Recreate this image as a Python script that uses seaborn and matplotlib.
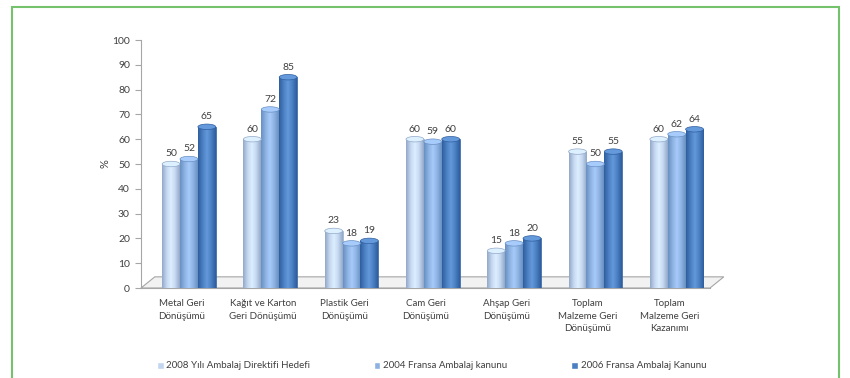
import numpy as np
import pandas as pd
import matplotlib
matplotlib.use("Agg")
import matplotlib.pyplot as plt
import seaborn as sns
from matplotlib.patches import Polygon, Rectangle, Ellipse
from matplotlib.colors import LinearSegmentedColormap

categories = ["Metal Geri\nDönüşümü", "Kağıt ve Karton\nGeri Dönüşümü", "Plastik Geri\nDönüşümü",
              "Cam Geri\nDönüşümü", "Ahşap Geri\nDönüşümü", "Toplam\nMalzeme Geri\nDönüşümü",
              "Toplam\nMalzeme Geri\nKazanımı"]
series_names = ["2008 Yılı Ambalaj Direktifi Hedefi", "2004 Fransa Ambalaj kanunu",
                "2006 Fransa Ambalaj Kanunu"]
values_2008 = [50, 60, 23, 60, 15, 55, 60]
values_2004_fr = [52, 72, 18, 59, 18, 50, 62]
values_2006_fr = [65, 85, 19, 60, 20, 55, 64]
yticks = list(range(0, 101, 10))

colors = ["#C3D6EF", "#8DB2E1", "#4A7FC1"]
edges = ["#93A9C8", "#6890C2", "#2F5E9E"]

rows = []
for name, vals in zip(series_names, [values_2008, values_2004_fr, values_2006_fr]):
    for c, v in zip(categories, vals):
        rows.append({"cat": c, "series": name, "val": v})
df = pd.DataFrame(rows)

sns.set_theme(style="white")
plt.rcParams["font.family"] = ["Lato", "DejaVu Sans"]

fig = plt.figure(figsize=(8.5, 3.78), dpi=100)
ax = fig.add_axes([141 / 850, 1 - 288 / 378, (710 - 141) / 850, (288 - 40) / 378])

sns.barplot(data=df, x="cat", y="val", hue="series", palette=colors, width=0.66,
            saturation=1, ax=ax, legend=True, zorder=3)

ax.set_ylim(0, 100)
ax.set_xlim(-0.5, len(categories) - 0.5)

# cylinder shading on each bar, derived from the bar geometry (3D depth shift)
nser = len(series_names)
ncat = len(categories)
depth_shift = 0.09
bar_patches = [p for p in ax.patches if p.get_height() > 0][: nser * ncat]
for i, p in enumerate(bar_patches):
    s = i // ncat
    p.set_x(p.get_x() + depth_shift)
    base = matplotlib.colors.to_rgb(colors[s])
    dark = matplotlib.colors.to_rgb(edges[s])
    light = tuple(min(1, c + 0.1) for c in base)
    cmap = LinearSegmentedColormap.from_list("cyl", [dark, base, light, base, dark])
    x0, w, h = p.get_x(), p.get_width(), p.get_height()
    grad = np.linspace(0, 1, 64).reshape(1, -1)
    im = ax.imshow(grad, extent=[x0, x0 + w, 0, h], aspect="auto", cmap=cmap,
                   zorder=3.5, origin="lower")
    im.set_clip_path(p)
    p.set_edgecolor(dark)
    p.set_linewidth(0.5)
    cap = Ellipse((x0 + w / 2, h), w, 2.2, facecolor=light, edgecolor=dark,
                  linewidth=0.5, zorder=4)
    ax.add_patch(cap)

for cont in ax.containers:
    ax.bar_label(cont, padding=4, fontsize=7.5, color="#404040", zorder=5)

# 3D-like floor
dx, dy = 0.17, 4.5
floor = Polygon([(-0.5, 0), (ncat - 0.5, 0), (ncat - 0.5 + dx, dy), (-0.5 + dx, dy)],
                closed=True, facecolor="#F2F2F2", edgecolor="#A6A6A6", linewidth=0.8,
                zorder=1, clip_on=False)
ax.add_patch(floor)

ax.set_yticks(yticks)
ax.set_yticklabels([str(t) for t in yticks], fontsize=7.5, color="#404040")
ax.set_xticks(range(ncat))
ax.set_xticklabels(categories, fontsize=7, color="#404040", linespacing=1.5)
ax.set_xticks(np.arange(-0.5, ncat, 1), minor=True)
ax.tick_params(axis="x", which="major", length=0, pad=8)
ax.tick_params(axis="x", which="minor", length=4, color="#A6A6A6", width=0.8, direction="out")
ax.tick_params(axis="y", length=4, color="#A6A6A6", width=0.8, left=True, direction="out", pad=4)
ax.set_xlabel("")
ax.set_ylabel("%", fontsize=8, color="#404040", labelpad=1)

for side in ["top", "right"]:
    ax.spines[side].set_visible(False)
ax.spines["left"].set_color("#A6A6A6")
ax.spines["left"].set_linewidth(0.8)
ax.spines["bottom"].set_color("#A6A6A6")
ax.spines["bottom"].set_linewidth(0.8)

handles, labels = ax.get_legend_handles_labels()
ax.legend_.remove()
fig.legend(handles, labels, loc="center left", bbox_to_anchor=(148 / 850, 1 - 366 / 378),
           ncol=3, frameon=False, fontsize=7, handlelength=0.7, handleheight=0.7,
           columnspacing=6.5, handletextpad=0.3, labelcolor="#404040")

# green frame
fig.patches.append(Rectangle((12 / 850, -0.05), (839 - 12) / 850, 1 - 7 / 378 + 0.05,
                             transform=fig.transFigure, fill=False, edgecolor="#74C26C",
                             linewidth=1.5))

fig.savefig("out.png", dpi=100)
